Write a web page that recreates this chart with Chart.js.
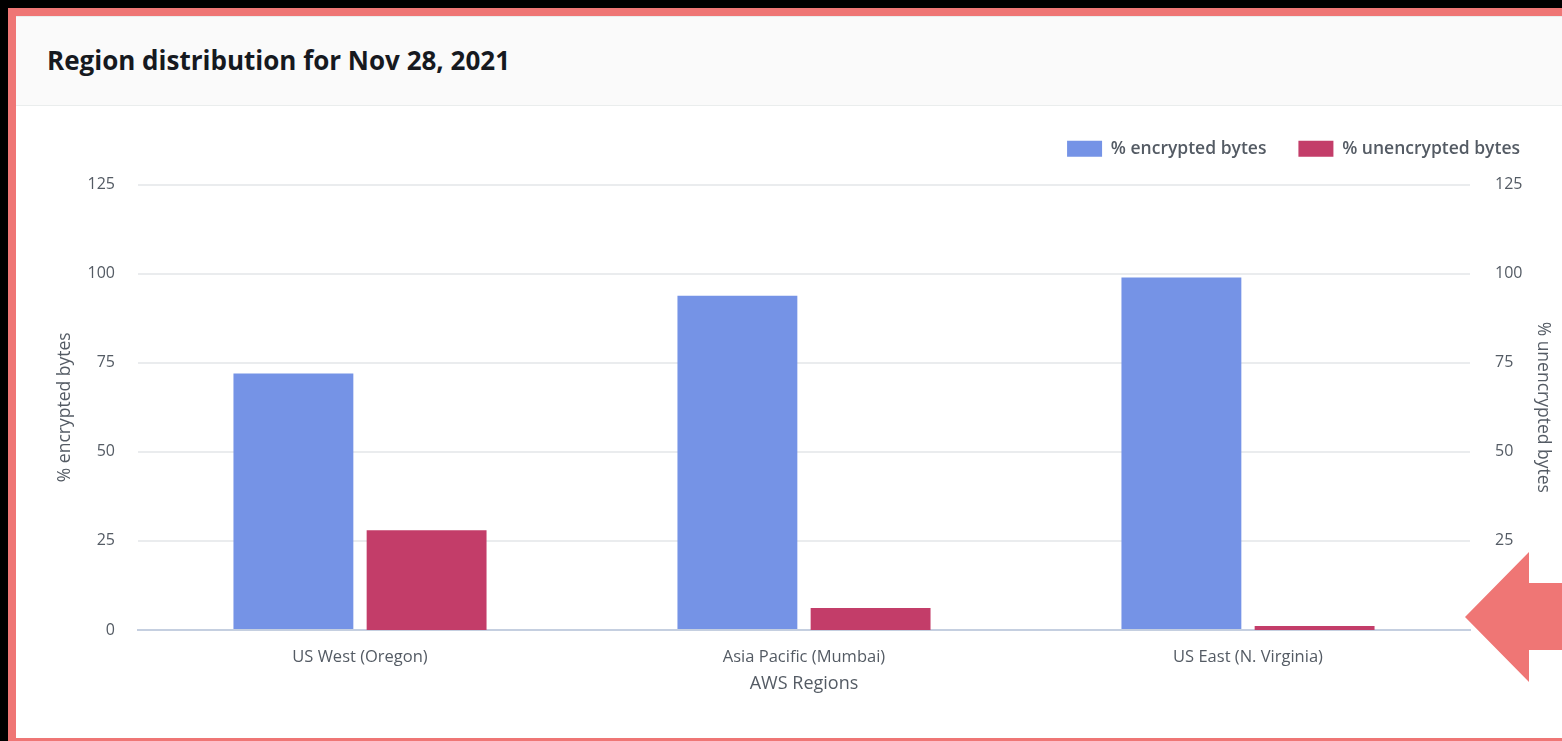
<!DOCTYPE html>
<html>
<head>
<meta charset="utf-8">
<script src="https://cdn.jsdelivr.net/npm/chart.js@4/dist/chart.umd.min.js"></script>
<style>
  html, body { margin: 0; padding: 0; background: #000; width: 1562px; height: 741px; overflow: hidden; }
  #frame { position: absolute; left: 8px; top: 8px; width: 1700px; height: 800px; background: #ef7675; }
  #card { position: absolute; left: 8px; top: 8px; width: 1692px; height: 722px; background: #fff; border-top: 1px solid #eaeded; box-sizing: border-box; }
  #header { position: absolute; left: 0; top: 0; width: 100%; height: 89px; background: #fafafa; border-bottom: 1px solid #eaeded; box-sizing: border-box; }
  #title { position: absolute; left: 31px; top: 25px; font-family: "Open Sans", sans-serif; font-weight: 700; font-size: 26px; color: #16191f; white-space: nowrap; }
  #wrap { position: absolute; left: 16px; top: 106px; width: 1546px; height: 632px; }
  #arrow { position: absolute; left: 0; top: 0; pointer-events: none; }
</style>
</head>
<body>
<div id="frame"><div id="card"><div id="header"><div id="title">Region distribution for Nov 28, 2021</div></div></div></div>
<div id="wrap"><canvas id="c" width="1546" height="632"></canvas></div>
<svg id="arrow" width="1562" height="741"><polygon points="1465,617 1529,552 1529,583 1562,583 1562,650 1529,650 1529,682" fill="#ef7675"/></svg>
<script>
const categories = ["US West (Oregon)", "Asia Pacific (Mumbai)", "US East (N. Virginia)"];
const encryptedPct = [72, 93.8, 98.9];
const unencryptedPct = [28, 6.2, 1.1];
const seriesNames = ["% encrypted bytes", "% unencrypted bytes"];
const yTicks = [0, 25, 50, 75, 100, 125];

const font = "'Open Sans', sans-serif";
const textGray = '#545b64';

const legendTweak = {
  id: 'legendTweak',
  beforeLayout(chart) {
    const lg = chart.legend;
    if (lg && !lg._patched) {
      const f = lg.fit.bind(lg);
      lg.fit = function () { f(); this.height += 17; };
      lg._patched = true;
    }
  },
  afterLayout(chart) {
    const lg = chart.legend;
    if (lg) { lg.left -= 10; lg.right -= 10; }
  }
};

new Chart(document.getElementById('c'), {
  type: 'bar',
  data: {
    labels: categories,
    datasets: [
      { label: seriesNames[0], data: encryptedPct, backgroundColor: '#7593e6', yAxisID: 'y', categoryPercentage: 0.6, barPercentage: 0.9 },
      { label: seriesNames[1], data: unencryptedPct, backgroundColor: '#c33d69', yAxisID: 'y2', categoryPercentage: 0.6, barPercentage: 0.9 }
    ]
  },
  options: {
    responsive: false,
    animation: false,
    layout: { padding: { left: 28, right: 0, top: 2, bottom: 10 } },
    plugins: {
      legend: {
        position: 'top', align: 'end',
        labels: { boxWidth: 35, boxHeight: 16, padding: 32, color: textGray, font: { family: font, size: 17.5, weight: '600' } }
      },
      tooltip: { enabled: false }
    },
    scales: {
      x: {
        grid: { display: false },
        border: { display: true, color: '#c5cfe0', width: 2 },
        ticks: { color: textGray, font: { family: font, size: 16.5 }, padding: 9 },
        title: { display: true, text: 'AWS Regions', color: textGray, font: { family: font, size: 18 }, padding: { top: 33, bottom: 33 } },
        afterFit(s) { s.height = 98; }
      },
      y: {
        position: 'left', min: 0, max: 125,
        afterBuildTicks(s) { s.ticks = yTicks.map(v => ({ value: v })); },
        grid: { color: '#eaecee', lineWidth: 2, drawTicks: false },
        border: { display: false },
        ticks: { color: textGray, font: { family: font, size: 16 }, padding: 23 },
        title: { display: true, text: '% encrypted bytes', color: textGray, font: { family: font, size: 17.5 }, padding: { top: 11, bottom: 0 } },
        afterFit(s) { s.width = 94; }
      },
      y2: {
        position: 'right', min: 0, max: 125,
        afterBuildTicks(s) { s.ticks = yTicks.map(v => ({ value: v })); },
        grid: { display: false, drawTicks: false },
        border: { display: false },
        ticks: { color: textGray, font: { family: font, size: 16 }, padding: 25 },
        title: { display: true, text: '% unencrypted bytes', color: textGray, font: { family: font, size: 17.5 }, padding: { top: 9, bottom: 0 } },
        afterFit(s) { s.width = 92; }
      }
    }
  },
  plugins: [legendTweak]
});
</script>
</body>
</html>
